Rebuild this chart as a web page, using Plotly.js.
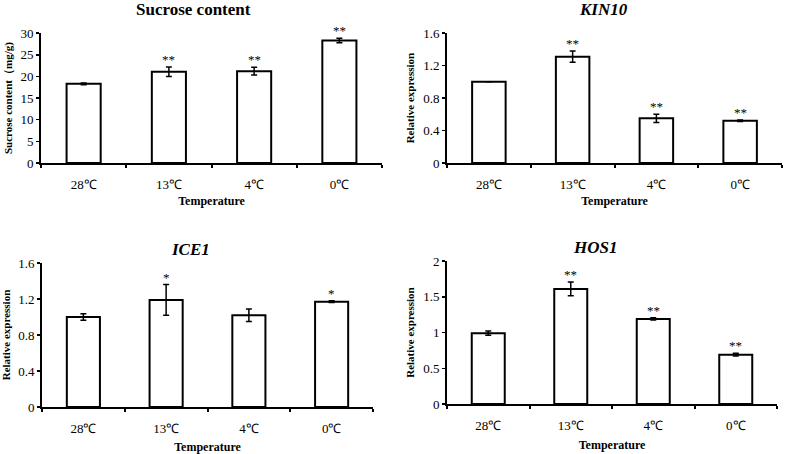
<!DOCTYPE html>
<html>
<head>
<meta charset="utf-8">
<script src="https://cdn.plot.ly/plotly-3.0.1.min.js"></script>
<style>body{margin:0;background:#fff}#graph{width:785px;height:454px}</style>
</head>
<body>
<div id="graph"></div>
<script>
var temps = ['28℃', '13℃', '4℃', '0℃'];

var sucrose = [18.3, 21.1, 21.2, 28.3];
var sucroseErr = [0.2, 1.1, 0.9, 0.5];
var sucroseSig = ['', '**', '**', '**'];

var kin10 = [1.0, 1.31, 0.55, 0.52];
var kin10Err = [0, 0.07, 0.05, 0.01];
var kin10Sig = ['', '**', '**', '**'];

var ice1 = [1.0, 1.19, 1.02, 1.17];
var ice1Err = [0.035, 0.17, 0.07, 0.01];
var ice1Sig = ['', '*', '', '*'];

var hos1 = [0.99, 1.61, 1.19, 0.69];
var hos1Err = [0.03, 0.095, 0.015, 0.02];
var hos1Sig = ['', '**', '**', '**'];

var serif = 'Liberation Serif, Times New Roman, serif';

function barTrace(vals, errs, n) {
  return {
    type: 'bar', x: temps, y: vals, width: 0.4,
    xaxis: 'x' + (n == 1 ? '' : n), yaxis: 'y' + (n == 1 ? '' : n),
    marker: {color: '#fff', line: {color: '#000', width: 2}},
    error_y: {type: 'data', array: errs, visible: true, color: '#000', thickness: 1.5, width: 3},
    hoverinfo: 'none'
  };
}

var data = [
  barTrace(sucrose, sucroseErr, 1),
  barTrace(kin10, kin10Err, 2),
  barTrace(ice1, ice1Err, 3),
  barTrace(hos1, hos1Err, 4)
];

function xax(dom, anchor, tstand) {
  return {
    domain: dom, anchor: anchor, type: 'category',
    showline: true, linecolor: '#000', linewidth: 2,
    ticks: 'outside', tickson: 'boundaries', ticklen: 3, tickwidth: 2, tickcolor: '#000',
    ticklabelstandoff: 8,
    tickfont: {family: serif, size: 13, color: '#000'},
    title: {text: '<b>Temperature</b>', font: {family: serif, size: 12, color: '#000'}, standoff: tstand},
    showgrid: false, zeroline: false, fixedrange: true
  };
}

function yax(dom, anchor, range, dtick, label) {
  return {
    domain: dom, anchor: anchor, range: range, dtick: dtick,
    showline: true, linecolor: '#000', linewidth: 2,
    ticks: 'outside', ticklen: 3, tickwidth: 1.5, tickcolor: '#000',
    tickfont: {family: serif, size: 13, color: '#000'},
    title: {text: '<b>' + label + '</b>', font: {family: serif, size: 11, color: '#000'}, standoff: 6},
    showgrid: false, zeroline: false, fixedrange: true
  };
}

var annotations = [];
function addStars(vals, errs, sig, n) {
  var s = n == 1 ? '' : n;
  for (var i = 0; i < vals.length; i++) {
    if (!sig[i]) continue;
    annotations.push({
      xref: 'x' + s, yref: 'y' + s, x: temps[i], y: vals[i] + errs[i],
      text: sig[i], showarrow: false, yanchor: 'bottom', yshift: -2,
      font: {family: serif, size: 13, color: '#000'}
    });
  }
}
addStars(sucrose, sucroseErr, sucroseSig, 1);
addStars(kin10, kin10Err, kin10Sig, 2);
addStars(ice1, ice1Err, ice1Sig, 3);
addStars(hos1, hos1Err, hos1Sig, 4);

function panelTitle(text, x, y) {
  annotations.push({
    xref: 'paper', yref: 'paper', x: x, y: y, text: text, showarrow: false,
    xanchor: 'center', yanchor: 'middle',
    font: {family: serif, size: 17, color: '#000'}
  });
}
panelTitle('<b>Sucrose content</b>', 193 / 785, 1 - 9 / 454);
panelTitle('<b><i>KIN10</i></b>', 603 / 785, 1 - 9 / 454);
panelTitle('<b><i>ICE1</i></b>', 190 / 785, 1 - 250 / 454);
panelTitle('<b><i>HOS1</i></b>', 595 / 785, 1 - 247 / 454);

var layout = {
  width: 785, height: 454,
  margin: {l: 0, r: 0, t: 0, b: 0},
  paper_bgcolor: '#fff', plot_bgcolor: '#fff',
  showlegend: false,
  xaxis: xax([41 / 785, 382 / 785], 'y', 6),
  yaxis: yax([0.641, 0.927], 'x', [0, 30], 5, 'Sucrose content（mg/g)'),
  xaxis2: xax([447 / 785, 782 / 785], 'y2', 6),
  yaxis2: yax([0.641, 0.927], 'x2', [0, 1.6], 0.4, 'Relative expression'),
  xaxis3: xax([42 / 785, 373 / 785], 'y3', 9),
  yaxis3: yax([0.1035, 0.4207], 'x3', [0, 1.6], 0.4, 'Relative expression'),
  xaxis4: xax([447 / 785, 777 / 785], 'y4', 9),
  yaxis4: yax([0.1101, 0.4251], 'x4', [0, 2], 0.5, 'Relative expression'),
  annotations: annotations
};

Plotly.newPlot('graph', data, layout, {displayModeBar: false, staticPlot: true});
</script>
</body>
</html>
